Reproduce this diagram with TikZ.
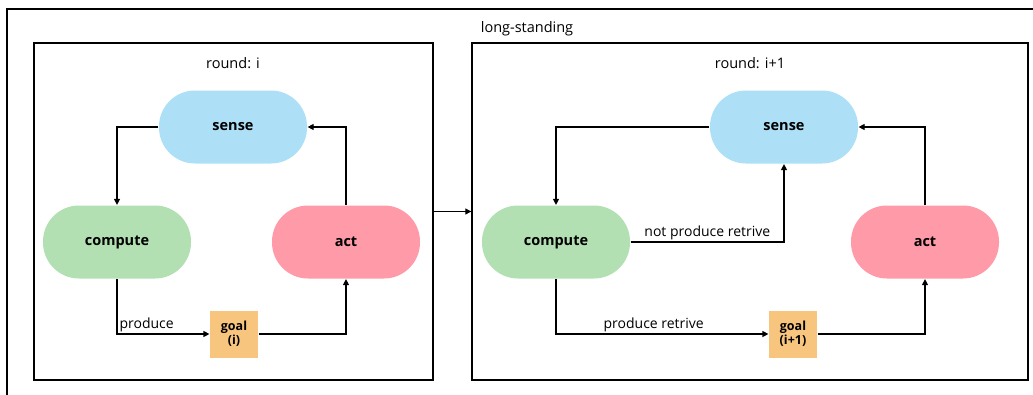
\documentclass[tikz,border=0pt]{standalone}
\usepackage{fontspec}
\setmainfont{Open Sans}
\usetikzlibrary{arrows.meta, positioning}
\definecolor{senseblue}{RGB}{173,224,247}
\definecolor{computegreen}{RGB}{178,224,178}
\definecolor{actpink}{RGB}{255,155,168}
\definecolor{goalorange}{RGB}{247,197,126}

\begin{document}
\begin{tikzpicture}[x=1pt,y=-1pt,>={Triangle[length=6pt,width=6pt]},line width=1.2pt]
  \tikzstyle{pill}=[rounded corners=36pt,minimum width=148pt,minimum height=73pt,font=\bfseries\fontsize{14.5}{17}\selectfont]
  \tikzstyle{goal}=[fill=goalorange,minimum width=48pt,minimum height=47pt,inner sep=0pt,align=center,font=\bfseries\fontsize{12.5}{14}\selectfont]
  \tikzstyle{round}=[draw,line width=1.4pt,inner sep=0pt]
  \tikzstyle{lbl}=[font=\fontsize{14}{16}\selectfont,inner sep=2pt]
  \tikzstyle{title}=[font=\fontsize{14.5}{17}\selectfont]

  \useasboundingbox (0,0) rectangle (1033,394);

  % outer frame, cut off by the page
  \draw[line width=1.4pt] (7,400) -- (7,9) -- (1040,9);
  \node[title] (longstanding) at (527,29) {long-standing};

  % round i
  \node[round,minimum width=399pt,minimum height=337pt] (round_i) at (233.5,211.5) {};
  \node[title] (title_i) at (233,63) {round: i};
  \node[pill,fill=senseblue]    (sense_i)   at (233,127) {sense};
  \node[pill,fill=computegreen] (compute_i) at (117,242) {compute};
  \node[pill,fill=actpink]      (act_i)     [right of=compute_i,node distance=229pt] {act};
  \node[goal]                   (goal_i)    at (234,334) {goal\\(i)};

  % round i+1
  \node[round,minimum width=556pt,minimum height=337pt] (round_ii) at (750,211.5) {};
  \node[title] (title_ii) at (750,63) {round: i+1};
  \node[pill,fill=senseblue]    (sense_ii)   at (784,127) {sense};
  \node[pill,fill=computegreen] (compute_ii) at (556,242) {compute};
  \node[pill,fill=actpink]      (act_ii)     [right of=compute_ii,node distance=369pt] {act};
  \node[goal]                   (goal_ii)    at (793,334) {goal\\(i+1)};

  \draw[->] (round_i.east) -- (round_ii.west);

  \draw[->] (sense_i.west) -| (compute_i.north);
  \draw[->] (act_i.north) |- (sense_i.east);
  \draw[->] (compute_i.south) |- node[lbl,above right,pos=0.5] {produce} (goal_i.west);
  \draw[->] (goal_i.east) -| (act_i.south);

  \draw[->] (sense_ii.west) -| (compute_ii.north);
  \draw[->] (act_ii.north) |- (sense_ii.east);
  \draw[->] (compute_ii.east) -| node[lbl,above,pos=0.25] {not produce retrive} (sense_ii.south);
  \draw[->] (compute_ii.south) |- node[lbl,above,pos=0.73] {produce retrive} (goal_ii.west);
  \draw[->] (goal_ii.east) -| (act_ii.south);
\end{tikzpicture}
\end{document}
